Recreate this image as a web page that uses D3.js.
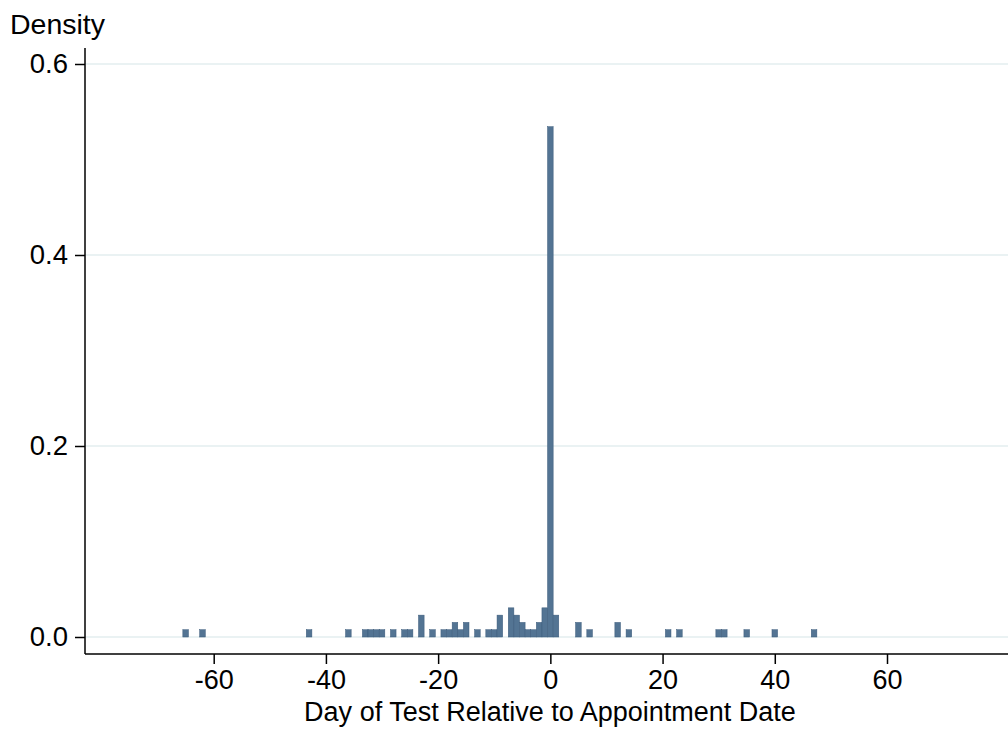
<!DOCTYPE html>
<html>
<head>
<meta charset="utf-8">
<script src="https://cdn.jsdelivr.net/npm/d3@7"></script>
<style>
  html, body { margin: 0; padding: 0; background: #ffffff; }
  text { font-family: "Liberation Sans", Arial, sans-serif; fill: #000; }
</style>
</head>
<body>
<svg id="chart" width="1008" height="729"></svg>
<script>
// Day of test relative to appointment date (discrete bins) and counts
const days   = [-65, -62, -43, -36, -33, -32, -31, -30, -28, -26, -25, -23, -21, -19, -18, -17, -16, -15, -13, -11, -10, -9, -7, -6, -5, -4, -3, -2, -1, 0, 1, 5, 7, 12, 14, 21, 23, 30, 31, 35, 40, 47];
const counts = [  1,   1,   1,   1,   1,   1,   1,   1,   1,   1,   1,   3,   1,   1,   1,   2,   1,   2,   1,   1,   1,  3,  4,  3,  2,  1,  1,  2,  4, 70, 3, 2, 1,  2,  1,  1,  1,  1,  1,  1,  1,  1];
const xTicks = [-60, -40, -20, 0, 20, 40, 60];
const yTicks = [0, 0.2, 0.4, 0.6];
const yTickLabels = ["0.0", "0.2", "0.4", "0.6"];
const xTitle = "Day of Test Relative to Appointment Date";
const yTitle = "Density";

const total = d3.sum(counts);
const bins = days.map((d, i) => ({ day: d, density: counts[i] / total }));

const svg = d3.select("#chart");
const mLeft = 85, mRight = 1008, mTop = 48, mBottom = 654;

const x = d3.scaleLinear().domain([-60, 60]).range([213.7, 887.0]);
const y = d3.scaleLinear().domain([0, 0.6]).range([637, 64]);

// gridlines
svg.append("g").selectAll("line").data(yTicks).join("line")
  .attr("x1", mLeft).attr("x2", mRight)
  .attr("y1", d => y(d)).attr("y2", d => y(d))
  .attr("stroke", "#eaf2f3").attr("stroke-width", 2);

// bars
svg.append("g").selectAll("rect").data(bins).join("rect")
  .attr("x", d => x(d.day - 0.5))
  .attr("width", d => x(d.day + 0.5) - x(d.day - 0.5))
  .attr("y", d => y(d.density))
  .attr("height", d => y(0) - y(d.density))
  .attr("fill", "#537493")
  .attr("stroke", "#3a5a7a")
  .attr("stroke-width", 0.5);

// y axis
const yAxis = d3.axisLeft(y).tickValues(yTicks)
  .tickFormat((d, i) => yTickLabels[i]).tickSize(10).tickPadding(7);
const gy = svg.append("g").attr("transform", `translate(${mLeft},0)`).call(yAxis);
gy.select(".domain").remove();
gy.append("line").attr("x1", 0).attr("x2", 0).attr("y1", mTop).attr("y2", mBottom)
  .attr("stroke", "#000").attr("stroke-width", 1.5);
gy.selectAll(".tick line").attr("stroke", "#000").attr("stroke-width", 1.5);
gy.selectAll(".tick text").style("font-size", "27.5px").attr("fill", "#000")
  .style("font-family", "Liberation Sans, Arial, sans-serif");

// x axis
const xAxis = d3.axisBottom(x).tickValues(xTicks).tickFormat(d3.format("d"))
  .tickSize(10).tickPadding(6);
const gx = svg.append("g").attr("transform", `translate(0,${mBottom})`).call(xAxis);
gx.select(".domain").remove();
gx.append("line").attr("x1", mLeft).attr("x2", mRight).attr("y1", 0).attr("y2", 0)
  .attr("stroke", "#000").attr("stroke-width", 1.5);
gx.selectAll(".tick line").attr("stroke", "#000").attr("stroke-width", 1.5);
gx.selectAll(".tick text").style("font-size", "27px").attr("fill", "#000")
  .style("font-family", "Liberation Sans, Arial, sans-serif")
  .text(d => d < 0 ? "-" + Math.abs(d) : String(d));

// titles
svg.append("text").attr("x", 550).attr("y", 721).attr("text-anchor", "middle")
  .style("font-size", "27px").text(xTitle);
svg.append("text").attr("x", 10).attr("y", 34).attr("text-anchor", "start")
  .style("font-size", "28.5px").text(yTitle);
</script>
</body>
</html>
